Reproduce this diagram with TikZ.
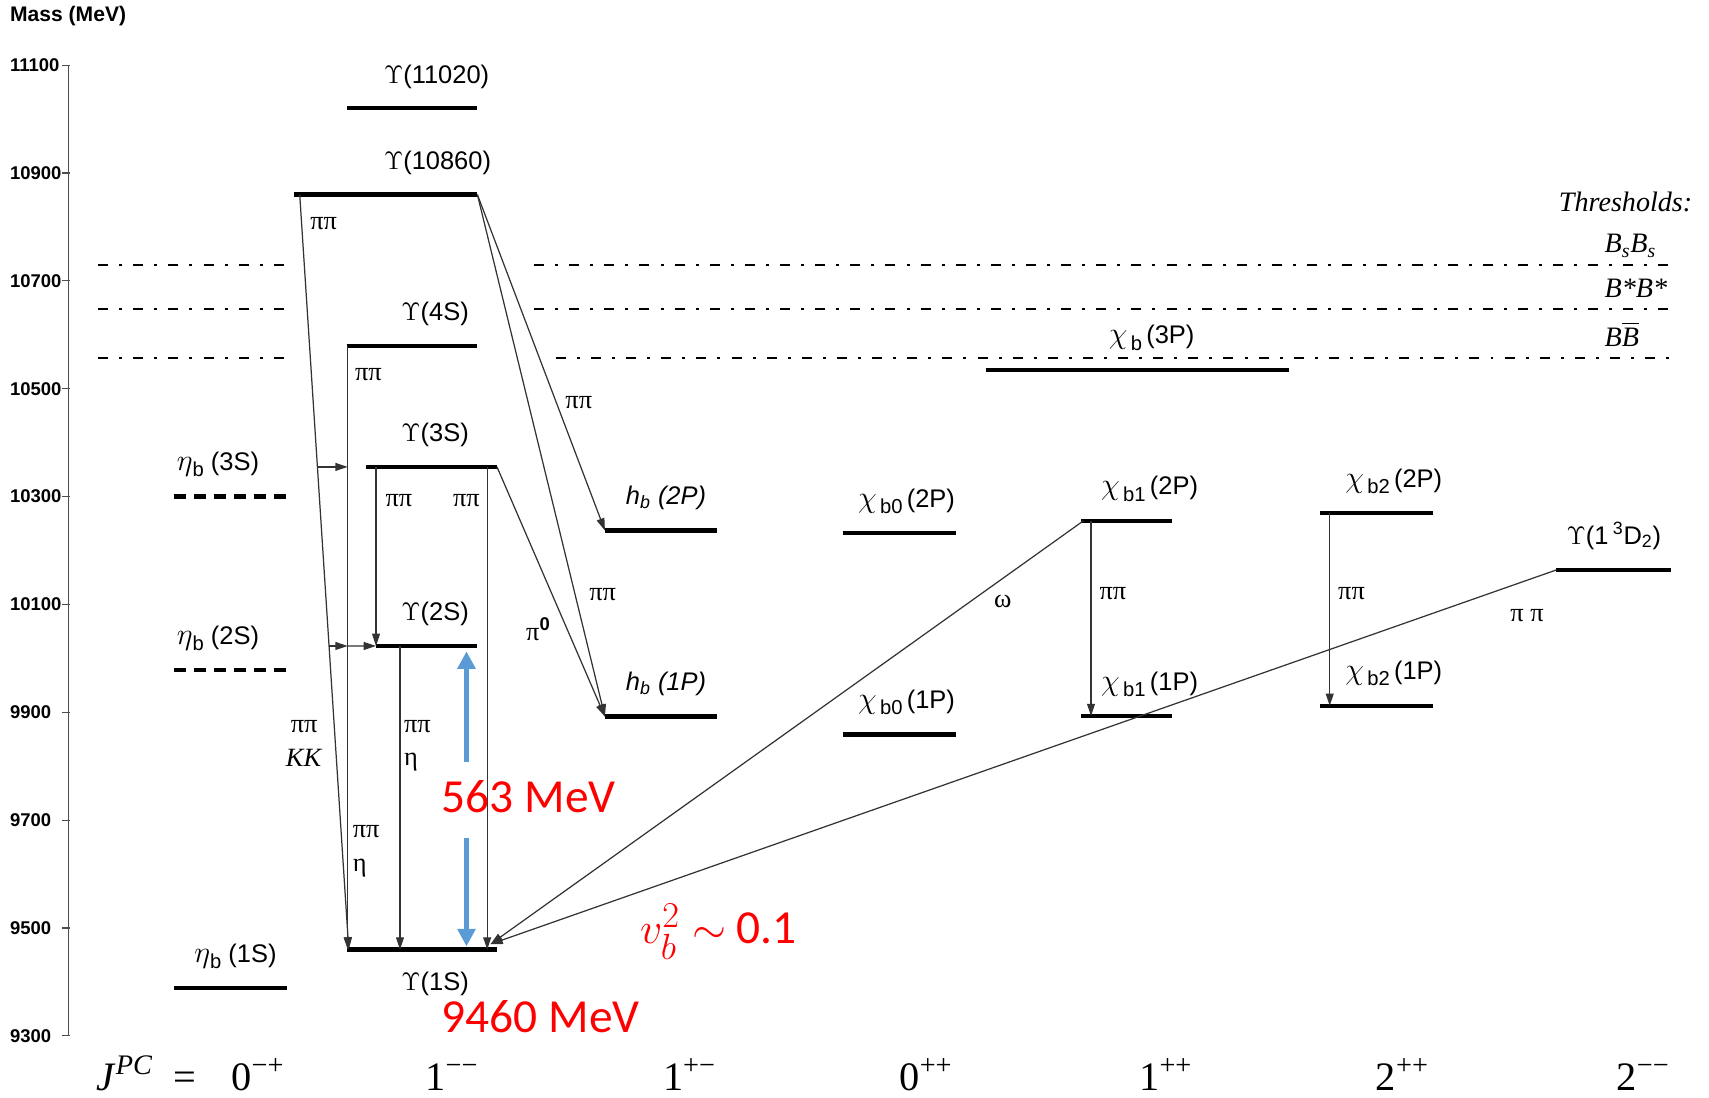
\documentclass[tikz,border=0pt]{standalone}
\usepackage[no-math]{fontspec}
\usepackage{amsmath}
\setmainfont{Liberation Sans}
\newfontfamily\tmsfont{Liberation Serif}
\newfontfamily\calibrifont{Carlito}
\usetikzlibrary{arrows.meta, calc}
\definecolor{upsRed}{HTML}{FF0000}
\definecolor{upsBlue}{HTML}{5B9BD5}
\definecolor{upsGrey}{HTML}{4D4D4D}
% greek letter with a lowered sans subscript, as in the state labels
\newcommand{\grsub}[2]{{\fontsize{19}{19}\selectfont$#1$}\raisebox{-0.45ex}{\fontsize{11.5}{12}\selectfont #2}}
\tikzset{
  % level lines, thresholds and transitions
  lev/.style      = {line width=2.4pt},
  levdash/.style  = {lev, dash pattern=on 6.8pt off 4.5pt},
  thr/.style      = {line width=1.2pt, dash pattern=on 5.7pt off 6.3pt on 1.7pt off 6.3pt},
  trans/.style    = {-{Triangle[length=7pt, width=4.5pt]}, line width=0.7pt, black!80},
  axisl/.style    = {line width=0.7pt, upsGrey},
  ticklbl/.style  = {font=\bfseries\fontsize{10.5}{12}\selectfont, anchor=west, inner sep=0pt},
  slbl/.style     = {font=\fontsize{14.5}{16}\selectfont, anchor=base west, inner sep=0pt},
  plbl/.style     = {font=\tmsfont\fontsize{15}{19}\selectfont, inner sep=0pt, align=center},
  thlbl/.style    = {font=\tmsfont\itshape\fontsize{16}{18}\selectfont, anchor=base west, inner sep=0pt},
  jpc/.style      = {font=\tmsfont\fontsize{23}{26}\selectfont, anchor=base west, inner sep=0pt},
  redlbl/.style   = {font=\calibrifont\fontsize{27}{30}\selectfont, upsRed, anchor=base west, inner sep=0pt},
  gaparrow/.style = {-{Triangle[length=10pt, width=10pt]}, line width=3pt, upsBlue},
}

\begin{document}
\begin{tikzpicture}[x=0.0218cm, y=0.010791cm]
  \useasboundingbox (0,9185) rectangle (1568,11221);
  % mass axis
  \draw[axisl] (63,9300) -- (63,11100);
  \foreach \m in {9300,9500,...,11100}{
    \draw[axisl] (57,\m) -- (64,\m);
    \node[ticklbl] (t\m) at (9,\m) {\m};
  }
  \node[ticklbl, font=\bfseries\fontsize{12}{14}\selectfont] (mass) at (9,11191) {Mass (MeV)};

  % open-flavour thresholds
  \draw[thr] (90,10729) -- (265,10729);
  \draw[thr] (490,10729) -- (1535,10729);
  \draw[thr] (90,10648) -- (265,10648);
  \draw[thr] (490,10648) -- (1535,10648);
  \draw[thr] (90,10557) -- (265,10557);
  \draw[thr] (510,10557) -- (1535,10557);
  \node[thlbl] (thtitle) at (1430,10829) {Thresholds:};
  \node[thlbl] (bsbs) at (1472,10752) {B\textsubscript{s}B\textsubscript{s}};
  \node[thlbl] (bstar) at (1472,10670) {B*B*};
  \node[thlbl] (bbar) at (1472,10579) {B$\overline{\mbox{\itshape B}}$};

  % 0-+ column
  \draw[levdash] (160,10300) -- (263,10300);
  \draw[levdash] (160,9978) -- (263,9978);
  \draw[lev] (160,9388) -- (263,9388);
  \node[slbl] (leb3) at (162,10348) {\grsub{\eta}{b} (3S)};
  \node[slbl] (leb2) at (162,10026) {\grsub{\eta}{b} (2S)};
  \node[slbl] (leb1) at (178,9436) {\grsub{\eta}{b} (1S)};

  % 1-- column
  \draw[lev] (318,11020) coordinate (u6L) -- (438,11020) coordinate (u6R);
  \draw[lev] (270,10860) coordinate (u5L) -- (438,10860) coordinate (u5R);
  \draw[lev] (318,10579) coordinate (u4L) -- (438,10579) coordinate (u4R);
  \draw[lev] (336,10355) coordinate (u3L) -- (456,10355) coordinate (u3R);
  \draw[lev] (345,10023) coordinate (u2L) -- (438,10023) coordinate (u2R);
  \draw[lev] (318,9460) coordinate (u1L) -- (456,9460) coordinate (u1R);
  \node[slbl] (l11020) at (352,11066) {$\Upsilon$(11020)};
  \node[slbl] (l10860) at (352,10906) {$\Upsilon$(10860)};
  \node[slbl] (l4s) at (368,10627) {$\Upsilon$(4S)};
  \node[slbl] (l3s) at (368,10403) {$\Upsilon$(3S)};
  \node[slbl] (l2s) at (368,10071) {$\Upsilon$(2S)};
  \node[slbl] (l1s) at (368,9385) {$\Upsilon$(1S)};

  % P-wave and D-wave levels
  \draw[lev] (555,10237) coordinate (hb2L) -- (658,10237);
  \draw[lev] (555,9892) coordinate (hb1L) -- (658,9892);
  \draw[lev] (773,10232) -- (877,10232);
  \draw[lev] (773,9859) -- (877,9859);
  \draw[lev] (992,10255) coordinate (co2L) -- (1075,10255);
  \draw[lev] (992,9893) coordinate (co1L) -- (1075,9893);
  \draw[lev] (1211,10269) coordinate (ct2L) -- (1315,10269);
  \draw[lev] (1211,9912) coordinate (ct1L) -- (1315,9912);
  \draw[lev] (905,10535) -- (1183,10535);
  \draw[lev] (1428,10164) coordinate (udL) -- (1533,10164);
  \node[slbl] (lhb2) at (574,10285) {\itshape h$_{\text{b}}$ (2P)};
  \node[slbl] (lhb1) at (574,9940) {\itshape h$_{\text{b}}$ (1P)};
  \node[slbl] (lcz2) at (787,10280) {\grsub{\chi}{\,b0}\,(2P)};
  \node[slbl] (lcz1) at (787,9907) {\grsub{\chi}{\,b0}\,(1P)};
  \node[slbl] (lco2) at (1010,10303) {\grsub{\chi}{\,b1}\,(2P)};
  \node[slbl] (lco1) at (1010,9941) {\grsub{\chi}{\,b1}\,(1P)};
  \node[slbl] (lct2) at (1234,10317) {\grsub{\chi}{\,b2}\,(2P)};
  \node[slbl] (lct1) at (1234,9960) {\grsub{\chi}{\,b2}\,(1P)};
  \node[slbl] (lc3p) at (1017,10583) {\grsub{\chi}{\,b}\,(3P)};
  \node[slbl] (lud) at (1437,10212) {$\Upsilon$(1\,$^{\text{3}}$D$_{\text{2}}$)};

  % transitions inside the 1-- column
  \coordinate (u5a) at (275,10860);
  \coordinate (u1a) at (320,9460);
  \draw[trans] (u5a) -- (u1a);
  \coordinate (k3) at ($(u5a)!0.3607!(u1a)$);
  \coordinate (k2) at ($(u5a)!0.5979!(u1a)$);
  \coordinate (u4a) at (319,10579);
  \draw[trans] (k3) -- (k3 -| u4a);
  \draw[trans] (k2) -- (k2 -| u4a);
  \draw[trans] (k2 -| u4a) -- (u2L);
  \draw[trans] (u4a) -- (u4a |- u1L);
  \coordinate (u3a) at (345,10355);
  \coordinate (u3b) at (447,10355);
  \coordinate (u2a) at (367,10023);
  \draw[trans] (u3a) -- (u3a |- u2L);
  \draw[trans] (u3b) -- (u3b |- u1L);
  \draw[trans] (u2a) -- (u2a |- u1L);
  \node[plbl] (p1) at (297,10807) {ππ};
  \node[plbl] (p2) at (338,10526) {ππ};
  \node[plbl] (p3) at (366,10292) {ππ};
  \node[plbl] (p4) at (428,10292) {ππ};
  \node[plbl] (p5) at (279,9842) {ππ\\\textit{KK}};
  \node[plbl, align=left] (p6) at (383,9838) {ππ\\η};
  \node[plbl, align=left] (p7) at (336,9642) {ππ\\η};

  % transitions to h_b
  \draw[trans] (u3R) -- (hb1L);
  \draw[trans] (u5R) -- (hb2L);
  \draw[trans] (u5R) -- (hb1L);
  \node[plbl] (p8) at (494,10054) {π\textsuperscript{\normalfont\bfseries 0}};
  \node[plbl] (p9) at (531,10474) {ππ};
  \node[plbl] (p10) at (553,10118) {ππ};

  % transitions from chi_b and the D-wave state
  \coordinate (u1t) at (450,9470);
  \draw[trans] (co2L) ++(2,0) coordinate (co2a) -- (u1t);
  \draw[trans] (udL) -- (u1t);
  \coordinate (co2b) at (1001,10255);
  \coordinate (ct2b) at (1220,10269);
  \draw[trans] (co2b) -- (co2b |- co1L);
  \draw[trans] (ct2b) -- (ct2b |- ct1L);
  \node[plbl] (p11) at (920,10106) {ω};
  \node[plbl] (p12) at (1021,10120) {ππ};
  \node[plbl] (p13) at (1240,10120) {ππ};
  \node[plbl] (p14) at (1401,10080) {π π};

  % 1S-2S splitting
  \coordinate (gapa) at (428,9807);
  \coordinate (gapb) at (428,10013);
  \coordinate (gapc) at (428,9666);
  \coordinate (gapd) at (428,9466);
  \draw[gaparrow] (gapa) -- (gapb);
  \draw[gaparrow] (gapc) -- (gapd);
  \node[redlbl] (gapv) at (405,9714) {563 MeV};
  \node[redlbl] (m1s) at (405,9306) {9460 MeV};
  \node[redlbl] (vel) at (587,9472) {{\fontsize{31}{32}\selectfont$v_b^2\sim$} 0.1};

  % quantum numbers
  \node[jpc] (jpc) at (88,9199) {\textit{J}\textsuperscript{\textit{PC}}\enspace=};
  \node[jpc] (j0mp) at (212,9199) {0\textsuperscript{−+}};
  \node[jpc] (j1mm) at (390,9199) {1\textsuperscript{−−}};
  \node[jpc] (j1pm) at (608,9199) {1\textsuperscript{+−}};
  \node[jpc] (j0pp) at (825,9199) {0\textsuperscript{++}};
  \node[jpc] (j1pp) at (1045,9199) {1\textsuperscript{++}};
  \node[jpc] (j2pp) at (1262,9199) {2\textsuperscript{++}};
  \node[jpc] (j2mm) at (1483,9199) {2\textsuperscript{−−}};
\end{tikzpicture}
\end{document}
